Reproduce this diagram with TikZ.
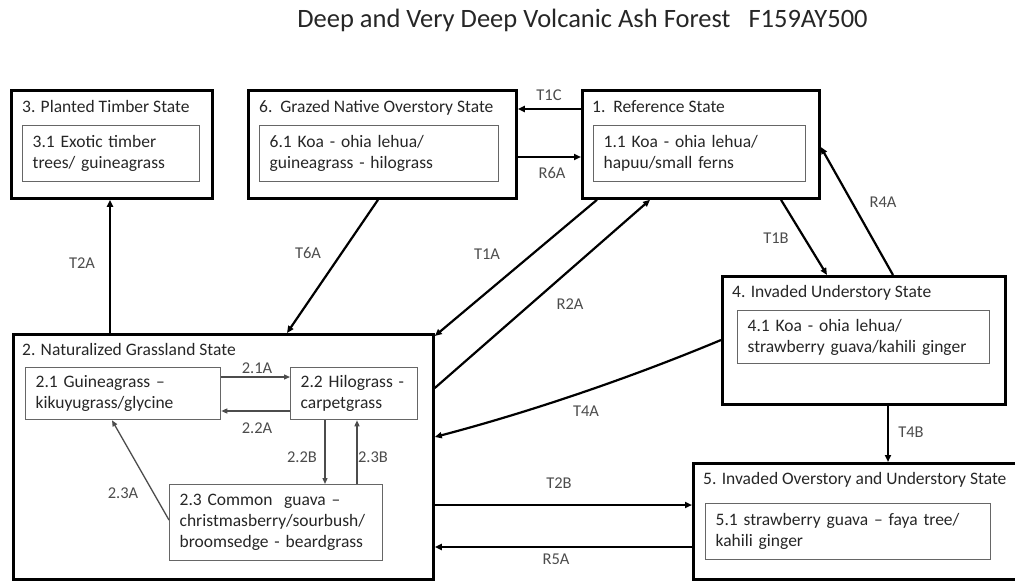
\documentclass[tikz,border=0pt]{standalone}
\usepackage{fontspec}
\setmainfont{Carlito}
\usetikzlibrary{arrows.meta}
\begin{document}
\begin{tikzpicture}[x=1pt,y=-1pt,
 outer/.style={draw=black, line width=2.8pt, anchor=north west, inner sep=0pt},
 inner/.style={draw=black!60, line width=1.3pt, anchor=north west, inner xsep=10pt, inner ysep=0pt, align=left, font=\fontsize{17.5}{21}\selectfont, text=black!85},
 head/.style={anchor=base west, inner sep=0pt, font=\fontsize{17.5}{21}\selectfont, text=black!85},
 lbl/.style={inner sep=0pt, font=\fontsize{16.5}{19}\selectfont, text=black!70},
 conn/.style={line width=2.2pt, -{Triangle[length=7pt,width=6pt]}},
 sub/.style={draw=black!70, line width=1.3pt, -{Triangle[length=6pt,width=5pt]}},
]
\useasboundingbox (0,0) rectangle (1015,581);

\node[font=\fontsize{26.5}{31}\selectfont, text=black!85, anchor=base, inner sep=0pt] (title) at (582.5,27) {Deep and Very Deep Volcanic Ash Forest\ \ \ F159AY500};

% outer state boxes
\node[outer, minimum width=201pt, minimum height=108pt] (b3) at (10,89) {};
\node[outer, minimum width=268pt, minimum height=108pt] (b6) at (247,89) {};
\node[outer, minimum width=237pt, minimum height=108pt] (b1) at (581,89) {};
\node[outer, minimum width=283pt, minimum height=128pt] (b4) at (721,275) {};
\node[outer, minimum width=330pt, minimum height=116pt] (b5) at (692,462) {};
\node[outer, minimum width=420pt, minimum height=245pt] (b2) at (12,333) {};

% headings
\node[head] (h3) at ([xshift=12pt,yshift=-23pt]b3.north west) {3. Planted Timber State};
\node[head] (h6) at ([xshift=12pt,yshift=-23pt]b6.north west) {6.\ \ Grazed Native Overstory State};
\node[head] (h1) at ([xshift=11pt,yshift=-23pt]b1.north west) {1.\ \ Reference State};
\node[head] (h4) at ([xshift=11pt,yshift=-22pt]b4.north west) {4. Invaded Understory State};
\node[head] (h5) at ([xshift=11pt,yshift=-22pt]b5.north west) {5. Invaded Overstory and Understory State};
\node[head] (h2) at ([xshift=10pt,yshift=-22pt]b2.north west) {2. Naturalized Grassland State};

% community boxes
\node[inner, text width=157pt, minimum height=56pt] (i3) at (22,125) {3.1 Exotic timber\\trees/ guineagrass};
\node[inner, text width=219pt, minimum height=56pt] (i6) at (259,125) {6.1 Koa - ohia lehua/\\guineagrass - hilograss};
\node[inner, text width=192pt, minimum height=56pt] (i1) at (593,125) {1.1 Koa - ohia lehua/\\hapuu/small ferns};
\node[inner, text width=232pt, minimum height=53pt] (i4) at (737,310) {4.1 Koa - ohia lehua/\\strawberry guava/kahili ginger};
\node[inner, text width=265pt, minimum height=56pt] (i5) at (705,503) {5.1 strawberry guava -- faya tree/\\kahili ginger};
\node[inner, text width=175pt, minimum height=52pt] (i21) at (25,367) {2.1 Guineagrass --\\kikuyugrass/glycine};
\node[inner, text width=107pt, minimum height=52pt] (i22) at (290,367) {2.2 Hilograss -\\carpetgrass};
\node[inner, text width=193pt, minimum height=76pt] (i23) at (169,484) {2.3 Common\ \ guava --\\christmasberry/sourbush/\\broomsedge - beardgrass};

% transitions between states
\draw[conn] ([yshift=-20pt]b1.north west) -- ([yshift=-20pt]b6.north east);
\draw[conn] ([yshift=-68pt]b6.north east) -- ([yshift=-68pt]b1.north west);
\draw[conn] ([xshift=98pt]b2.north west) -- ([xshift=100pt]b3.south west);
\draw[conn] ([xshift=131pt]b6.south west) -- ([xshift=275pt]b2.north west);
\draw[conn] ([xshift=16pt]b1.south west) -- ([yshift=-3pt]b2.north east);
\draw[conn] ([yshift=-55pt]b2.north east) -- ([xshift=69pt]b1.south west);
\draw[conn] ([xshift=200pt]b1.south west) -- ([xshift=106pt]b4.north west);
\draw[conn] ([xshift=172pt]b4.north west) -- ([yshift=-58pt]b1.north east);
\draw[conn] ([yshift=-65pt]b4.north west) .. controls (630,378) and (530,412) .. ([yshift=-104pt]b2.north east);
\draw[conn] ([xshift=167pt]b4.south west) -- ([xshift=196pt]b5.north west);
\draw[conn] ([yshift=-172pt]b2.north east) -- ([yshift=-43pt]b5.north west);
\draw[conn] ([yshift=-85pt]b5.north west) -- ([yshift=-214pt]b2.north east);

% transitions within state 2
\draw[sub] ([yshift=-10pt]i21.north east) -- ([yshift=-10pt]i22.north west);
\draw[sub] ([yshift=-44pt]i22.north west) -- ([yshift=-44pt]i21.north east);
\draw[sub] ([xshift=35pt]i22.south west) -- ([xshift=156pt]i23.north west);
\draw[sub] ([xshift=188pt]i23.north west) -- ([xshift=67pt]i22.south west);
\draw[sub] ([yshift=-36pt]i23.north west) -- ([xshift=87pt]i21.south west);

% labels
\node[lbl] (lT1C) at (549,95) {T1C};
\node[lbl] (lR6A) at (552,173) {R6A};
\node[lbl] (lT2A) at (82,263) {T2A};
\node[lbl] (lT6A) at (308,253) {T6A};
\node[lbl] (lT1A) at (487,254) {T1A};
\node[lbl] (lR2A) at (570,304) {R2A};
\node[lbl] (lT1B) at (776,238) {T1B};
\node[lbl] (lR4A) at (883,202) {R4A};
\node[lbl] (lT4A) at (586,411) {T4A};
\node[lbl] (lT4B) at (911,432) {T4B};
\node[lbl] (lT2B) at (559,483) {T2B};
\node[lbl] (lR5A) at (556,559) {R5A};
\node[lbl] (l21A) at (257,368) {2.1A};
\node[lbl] (l22A) at (257,428) {2.2A};
\node[lbl] (l22B) at (302,457) {2.2B};
\node[lbl] (l23B) at (373,457) {2.3B};
\node[lbl] (l23A) at (123,493) {2.3A};
\end{tikzpicture}
\end{document}
